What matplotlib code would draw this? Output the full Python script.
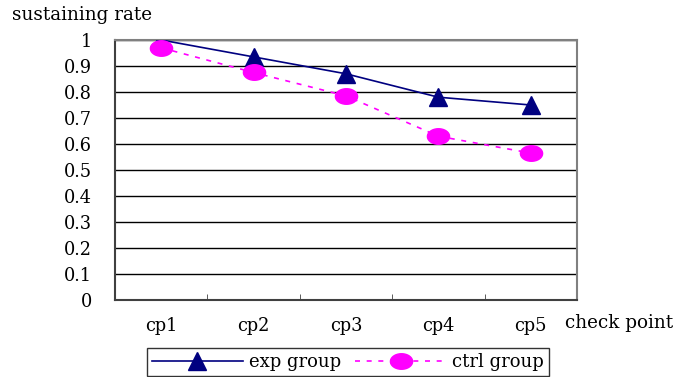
import matplotlib
matplotlib.use("Agg")
import matplotlib.pyplot as plt
import numpy as np
from matplotlib.path import Path
from matplotlib.ticker import FixedLocator

categories = ["cp1", "cp2", "cp3", "cp4", "cp5"]
exp_group = [1.0, 0.935, 0.87, 0.78, 0.75]
ctrl_group = [0.97, 0.875, 0.785, 0.63, 0.565]
y_ticks = [0, 0.1, 0.2, 0.3, 0.4, 0.5, 0.6, 0.7, 0.8, 0.9, 1]
y_tick_labels = ["0", "0.1", "0.2", "0.3", "0.4", "0.5", "0.6", "0.7", "0.8", "0.9", "1"]

plt.rcParams['font.family'] = ['DejaVu Serif']

fig = plt.figure(figsize=(6.77, 3.77), dpi=100)
ax = fig.add_axes([115/677, 1-300/377, (577-115)/677, (300-40)/377])

# elliptical marker
t = np.linspace(0, 2*np.pi, 40)
ell = Path(np.column_stack([np.cos(t), 0.7*np.sin(t)]), closed=True)

x = np.arange(len(categories))
ax.plot(x, exp_group, color="#000080", lw=1.2, marker="^", markersize=13,
        markerfacecolor="#000080", markeredgecolor="#000080", label="exp group", zorder=3)
ax.plot(x, ctrl_group, color="#FF00FF", lw=1.2, ls=(0, (3, 4)), marker=ell, markersize=16,
        markerfacecolor="#FF00FF", markeredgecolor="#FF00FF", label="ctrl group", zorder=3)

ax.set_xlim(-0.5, len(categories) - 0.5)
ax.set_ylim(0, 1)
ax.set_yticks(y_ticks)
ax.set_yticklabels(y_tick_labels)
ax.yaxis.grid(True, color="black", lw=1)
ax.set_axisbelow(True)

ax.set_xticks(x)
ax.set_xticklabels(categories)
ax.tick_params(axis="x", which="major", length=0, pad=12, labelsize=12.8)
ax.xaxis.set_minor_locator(FixedLocator(np.arange(0.5, len(categories) - 0.5, 1)))
ax.tick_params(axis="x", which="minor", direction="in", length=4, color="#404040")
ax.tick_params(axis="y", length=0, pad=16.5, labelsize=12.8)

for s in ["top", "right"]:
    ax.spines[s].set_color("#808080")
    ax.spines[s].set_linewidth(1.5)
for s in ["left", "bottom"]:
    ax.spines[s].set_color("#404040")
    ax.spines[s].set_linewidth(1.5)

fig.text(12/677, 1-15/377, "sustaining rate", fontsize=13.2, va="center", ha="left")
fig.text(565/677, 1-323/377, "check point", fontsize=13.2, va="center", ha="left")

leg = fig.legend(loc="center", bbox_to_anchor=(348/677, 1-362/377), ncol=2,
                 frameon=True, fancybox=False, edgecolor="black", fontsize=13,
                 handlelength=5.0, columnspacing=0.8, handletextpad=0.35,
                 borderpad=0.3, borderaxespad=0)
leg.get_frame().set_linewidth(1.0)

fig.savefig("out.png", dpi=100)
